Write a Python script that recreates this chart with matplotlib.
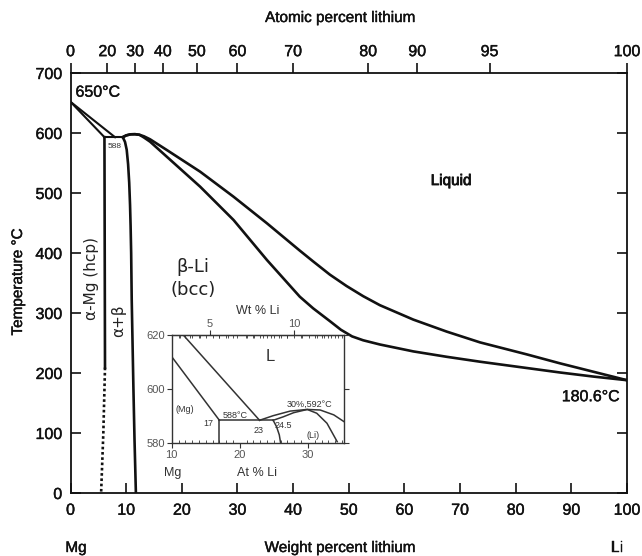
import numpy as np
import matplotlib
matplotlib.use("Agg")
import matplotlib.pyplot as plt
import matplotlib.patheffects as pe
from matplotlib.ticker import MultipleLocator

plt.rcParams['font.family'] = ['Liberation Sans', 'DejaVu Sans']

# ---------------- main diagram data (wt % Li, deg C) ----------------
mg_liquidus_x = [0, 8.0]
mg_liquidus_T = [652, 593]
mg_solidus_x = [0, 6.1]
mg_solidus_T = [652, 593]
eutectic_x = [6.1, 9.4]
eutectic_T = [593, 593]
mg_solvus_x = [6.1, 6.15, 6.2]
mg_solvus_T = [593, 400, 209]
mg_solvus_dot_x = [6.2, 5.9, 5.5]
mg_solvus_dot_T = [209, 100, 0]
li_solvus_x = [9.4, 9.8, 10.1, 10.35, 10.55, 10.7, 10.8, 10.9, 11.0, 11.15, 11.3, 11.5, 11.75]
li_solvus_T = [593, 585, 572, 548, 517, 480, 445, 400, 322, 250, 177, 90, 0]
liquidus_x = [9.4, 10.0, 10.8, 11.6, 12.4, 13.2, 14.3, 17.3, 23.3, 29.3, 35.3, 41.2, 43.6,
              46.6, 49.6, 52.6, 55.6, 61.6, 67.6, 73.6, 82, 88, 94, 100]
liquidus_T = [593, 596, 597.8, 598, 597, 594.5, 589.5, 571.7, 535.5, 493.8, 449.5, 404, 386,
              364, 345, 328, 313, 289, 269, 251, 231, 216, 202, 188]
solidus_x = [9.4, 10.0, 10.8, 11.6, 12.4, 13.2, 14.3, 17.3, 23.3, 29.3, 35.3, 41.2, 43.6,
             46.6, 48.6, 50.6, 52.6, 55.6, 61.6, 67.6, 73.6, 82, 88, 94, 100]
solidus_T = [593, 596, 597.8, 598, 597, 592.5, 585.5, 560.5, 510.5, 455, 388.3, 327.2, 307.8,
             286.5, 272, 261, 254.5, 247.5, 236, 227, 218.8, 208.3, 200.8, 194, 188]

wt_ticks = [0, 10, 20, 30, 40, 50, 60, 70, 80, 90, 100]
T_ticks = [0, 100, 200, 300, 400, 500, 600, 700]
at_tick_labels = ['0', '20', '30', '40', '50', '60', '70', '80', '90', '95', '100']
at_tick_pos_wt = [0, 6.6, 11.6, 16.6, 22.7, 30.0, 40.0, 53.5, 62.3, 75.3, 100]

# ---------------- inset data (at % Li, deg C) ----------------
in_liq_mg_x = [11.7, 22.9]
in_liq_mg_T = [620, 588.5]
in_sol_mg_x = [10.0, 17.0]
in_sol_mg_T = [612, 588.5]
in_solvus_mg_x = [17.0, 17.0]
in_solvus_mg_T = [588.5, 580]
in_eut_x = [17.0, 24.9]
in_eut_T = [588.5, 588.5]
in_solvus_li_x = [24.9, 25.4, 25.8, 26.0]
in_solvus_li_T = [588.5, 586.1, 583.1, 580]
in_liq_li_x = [22.9, 24.9, 27.4, 29.9, 31.8, 33.8, 35.3]
in_liq_li_T = [588.5, 590.2, 591.9, 592.5, 592.3, 590.5, 588.0]
in_sol_li_x = [24.9, 26.4, 27.9, 29.9, 31.3, 32.8, 34.3]
in_sol_li_T = [588.5, 589.8, 591.3, 592.5, 591.1, 587.4, 580.6]

W, H = 642, 556
fig = plt.figure(figsize=(W / 100, H / 100), dpi=100)


def fx(px):
    return px / W


def fy(py):
    return 1 - py / H


thick = [pe.withStroke(linewidth=0.3, foreground='#111111')]

ax = fig.add_axes([fx(70.5), fy(493), (627 - 70.5) / W, (493 - 73) / H])
ax.set_xlim(0, 100)
ax.set_ylim(0, 700)

lc = '#111111'
lw = 1.9
ax.plot(mg_liquidus_x, mg_liquidus_T, color=lc, lw=1.5)
ax.plot(mg_solidus_x, mg_solidus_T, color=lc, lw=1.5)
ax.plot(eutectic_x, eutectic_T, color=lc, lw=1.5)
ax.plot(mg_solvus_x, mg_solvus_T, color=lc, lw=lw)
ax.plot(mg_solvus_dot_x, mg_solvus_dot_T, color=lc, lw=lw, ls=(0, (1.0, 1.0)))
ax.plot(li_solvus_x, li_solvus_T, color=lc, lw=lw, solid_joinstyle='round')
ax.plot(liquidus_x, liquidus_T, color=lc, lw=lw, solid_joinstyle='round')
ax.plot(solidus_x, solidus_T, color=lc, lw=lw, solid_joinstyle='round')

for s in ax.spines.values():
    s.set_linewidth(1.3)
    s.set_color(lc)

ax.set_xticks(wt_ticks)
ax.set_yticks(T_ticks)
ax.tick_params(axis='both', direction='in', length=7, width=1.2, labelsize=11.5,
               top=True, right=True, pad=6, colors=lc)
ax.tick_params(axis='x', pad=7)
for lab in ax.get_xticklabels() + ax.get_yticklabels():
    lab.set_path_effects(thick)

ax2 = ax.twiny()
ax2.set_xlim(0, 100)
ax2.set_xticks(at_tick_pos_wt)
ax2.set_xticklabels(at_tick_labels)
ax2.tick_params(axis='x', direction='out', length=7, width=1.2, labelsize=11.5, pad=3, colors=lc)
for lab in ax2.get_xticklabels():
    lab.set_path_effects(thick)
for s in ax2.spines.values():
    s.set_visible(False)

# main labels
ax.text(0.9, 668, '650°C', fontsize=11.5, ha='left', va='center', color=lc, path_effects=thick)
ax.text(68.4, 520, 'Liquid', fontsize=11, ha='center', va='center', color=lc,
        path_effects=[pe.withStroke(linewidth=0.6, foreground=lc)])
ax.text(93.5, 160.5, '180.6°C', fontsize=11.5, ha='center', va='center', color=lc,
        path_effects=thick)
ax.text(22.0, 376, 'β-Li', fontsize=13, ha='center', va='center', color='#222222',
        family='DejaVu Sans')
ax.text(22.0, 338, '(bcc)', fontsize=13, ha='center', va='center', color='#222222',
        family='DejaVu Sans')
ax.text(3.7, 358, 'α-Mg (hcp)', fontsize=11, ha='center', va='center', rotation=90,
        color='#222222', family='DejaVu Sans')
ax.text(8.7, 287, 'α+β', fontsize=11, ha='center', va='center', rotation=90,
        color='#222222', family='DejaVu Sans')
ax.text(8.0, 577, '588', fontsize=6, ha='center', va='center', color='#333333')

fig.text(fx(340), fy(18), 'Atomic percent lithium', fontsize=11, ha='center', va='center',
         color=lc, path_effects=thick)
fig.text(fx(340), fy(548), 'Weight percent lithium', fontsize=11, ha='center', va='center',
         color=lc, path_effects=thick)
fig.text(fx(76), fy(548), 'Mg', fontsize=11, ha='center', va='center', color=lc, path_effects=thick)
fig.text(fx(617), fy(548), 'Li', fontsize=11, ha='center', va='center', color=lc, path_effects=thick)
fig.text(fx(18), fy(282), 'Temperature °C', fontsize=11, ha='center', va='center',
         rotation=90, color=lc, path_effects=thick)

# ---------------- inset ----------------
ic = '#333333'
axi = fig.add_axes([fx(171.7), fy(443.3), (344 - 171.7) / W, (443.3 - 335) / H])
axi.set_facecolor('white')
axi.set_xlim(10, 35.3)
axi.set_ylim(580, 620)
ilw = 1.1
axi.plot(in_liq_mg_x, in_liq_mg_T, color=ic, lw=ilw)
axi.plot(in_sol_mg_x, in_sol_mg_T, color=ic, lw=ilw)
axi.plot(in_solvus_mg_x, in_solvus_mg_T, color=ic, lw=ilw)
axi.plot(in_eut_x, in_eut_T, color=ic, lw=ilw)
axi.plot(in_solvus_li_x, in_solvus_li_T, color=ic, lw=ilw)
axi.plot(in_liq_li_x, in_liq_li_T, color=ic, lw=ilw)
axi.plot(in_sol_li_x, in_sol_li_T, color=ic, lw=ilw)
for s in axi.spines.values():
    s.set_linewidth(1.0)
    s.set_color(ic)

axi.set_xticks([10, 20, 30])
axi.xaxis.set_minor_locator(MultipleLocator(1))
axi.set_yticks([580, 600, 620])
axi.tick_params(axis='both', which='major', direction='out', length=3.5, width=0.8,
                labelsize=8, colors=ic, labelcolor='#555555', pad=1.5, right=True)
axi.tick_params(axis='x', which='minor', direction='in', length=2, width=0.6,
                top=True, bottom=True, colors=ic)


def at2wt(a):
    a = np.asarray(a, dtype=float)
    return 100 * a * 6.941 / (a * 6.941 + (100 - a) * 24.305)


def wt2at(w):
    w = np.asarray(w, dtype=float)
    return 100 * (w / 6.941) / (w / 6.941 + (100 - w) / 24.305)


sec = axi.secondary_xaxis('top', functions=(at2wt, wt2at))
sec.set_xticks([5, 10])
sec.xaxis.set_minor_locator(MultipleLocator(0.5))
sec.tick_params(which='major', direction='out', length=3.5, width=0.8, labelsize=8,
                colors=ic, labelcolor='#555555', pad=1)
sec.tick_params(which='minor', direction='in', length=2, width=0.6, colors=ic)

axi.text(11.96, 592.3, '(Mg)', fontsize=6.5, ha='center', va='center', color=ic)
axi.text(19.3, 590.2, '588°C', fontsize=6.5, ha='center', va='center', color=ic)
axi.text(15.4, 587.4, '17', fontsize=6.5, ha='center', va='center', color=ic)
axi.text(22.7, 584.7, '23', fontsize=6.5, ha='center', va='center', color=ic)
axi.text(26.4, 586.4, '24.5', fontsize=6.5, ha='center', va='center', color=ic)
axi.text(30.8, 583.0, '(Li)', fontsize=6.5, ha='center', va='center', color=ic)
axi.text(30.2, 594.4, '30%,592°C', fontsize=6.5, ha='center', va='center', color=ic)
axi.text(24.5, 612, 'L', fontsize=12, ha='center', va='center', color=ic)

fig.text(fx(258), fy(311), 'Wt % Li', fontsize=9, ha='center', va='center', color=ic)
fig.text(fx(257), fy(473), 'At % Li', fontsize=9, ha='center', va='center', color=ic)
fig.text(fx(173), fy(473), 'Mg', fontsize=9, ha='center', va='center', color=ic)

fig.savefig('out.png', dpi=100)
